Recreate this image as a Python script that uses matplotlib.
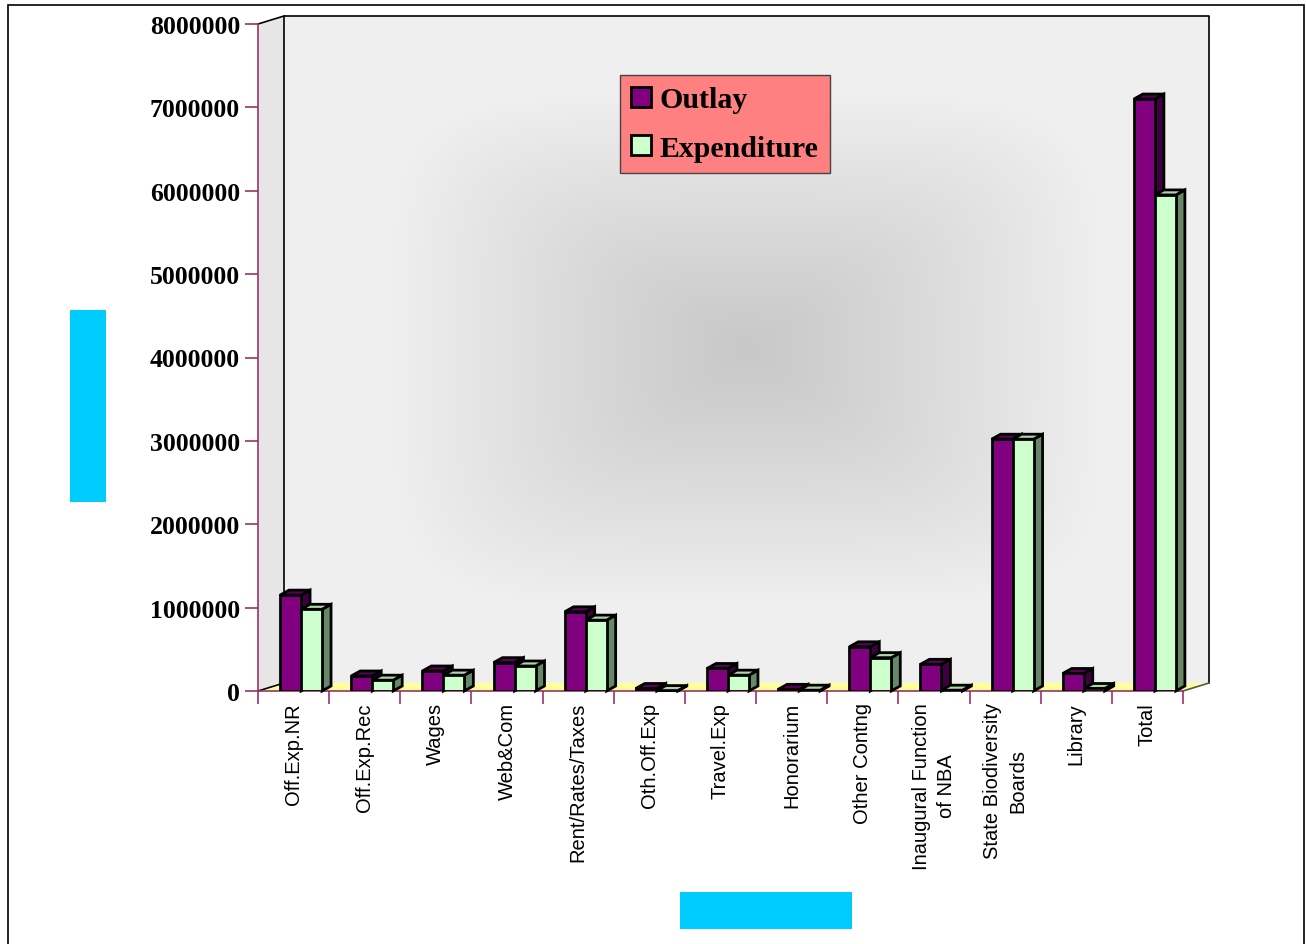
import numpy as np
import matplotlib
matplotlib.use('Agg')
import matplotlib.pyplot as plt
from matplotlib.patches import Rectangle, Polygon, Patch

categories = ['Off.Exp.NR', 'Off.Exp.Rec', 'Wages', 'Web&Com', 'Rent/Rates/Taxes',
              'Oth.Off.Exp', 'Travel.Exp', 'Honorarium', 'Other Contng',
              'Inaugural Function\nof NBA', 'State Biodiversity\nBoards', 'Library', 'Total']
outlay = [1150000, 180000, 240000, 340000, 950000, 30000, 270000, 20000,
          530000, 320000, 3020000, 210000, 7100000]
expenditure = [980000, 130000, 190000, 300000, 850000, 5000, 190000, 10000,
               400000, 10000, 3020000, 30000, 5950000]
yticks = [0, 1000000, 2000000, 3000000, 4000000, 5000000, 6000000, 7000000, 8000000]

W, H = 1306, 945
fig = plt.figure(figsize=(W / 100, H / 100), dpi=100)
ax = fig.add_axes([258 / W, 253 / H, 925 / W, 667 / H])
ax.set_facecolor('none')

n = len(categories)
ymax = 8000000
px_x = 925 / n          # pixels per category
px_y = 667 / ymax       # pixels per unit value

# wall depth offset
wdx = 26 / px_x
wdy = 8 / px_y

# back wall gradient
gx = np.linspace(-1, 1, 400)
gy = np.linspace(-1, 1, 300)
U, V = np.meshgrid(gx, gy)
d = (np.abs(U) ** 5 + np.abs(V) ** 5) ** 0.2
g = 0.785 + (0.94 - 0.785) * np.clip(d / 0.78, 0, 1) ** 1.1
img = np.dstack([g, g, g])
im = ax.imshow(img, extent=(wdx, n + wdx, wdy, ymax + wdy), aspect='auto',
               zorder=0, interpolation='bilinear')
im.set_clip_on(False)

# side wall and floor
side = Polygon([(0, 0), (wdx, wdy), (wdx, ymax + wdy), (0, ymax)], closed=True,
               facecolor='#e6e6e6', edgecolor='none', zorder=0.5, clip_on=False)
ax.add_patch(side)
floor = Polygon([(0, 0), (n, 0), (n + wdx, wdy), (wdx, wdy)], closed=True,
                facecolor='#ffff99', edgecolor='none', zorder=0.6, clip_on=False)
ax.add_patch(floor)
ax.plot([wdx, wdx, n + wdx, n + wdx], [wdy, ymax + wdy, ymax + wdy, wdy],
        color='black', lw=1.2, zorder=0.7, clip_on=False)
ax.plot([0, wdx], [ymax, ymax + wdy], color='black', lw=1.2, zorder=0.7, clip_on=False)
ax.plot([0, wdx], [0, wdy], color='black', lw=1.2, zorder=0.7, clip_on=False)
ax.plot([n, n + wdx], [0, wdy], color='#555555', lw=1.2, zorder=0.7, clip_on=False)

# bars
bw = 0.295
bdx = 9 / px_x
bdy = 5 / px_y
elw = 2.0
series = [(outlay, 0.31, '#800080', '#3f003f', '#5a005a', 'Outlay'),
          (expenditure, 0.31 + bw, '#ccffcc', '#668866', '#a8d8a8', 'Expenditure')]
handles = []
for k, (vals, off, front, sidec, topc, lab) in enumerate(series):
    z = 3 + k
    xs = np.arange(n) + off
    bars = ax.bar(xs, vals, width=bw, align='edge', color=front, edgecolor='black',
                  linewidth=elw, zorder=z + 0.2)
    for x0, v in zip(xs, vals):
        ax.add_patch(Polygon([(x0 + bw, 0), (x0 + bw + bdx, bdy), (x0 + bw + bdx, v + bdy),
                              (x0 + bw, v)], closed=True, facecolor=sidec,
                             edgecolor='black', linewidth=elw, zorder=z, clip_on=False))
        ax.add_patch(Polygon([(x0, v), (x0 + bdx, v + bdy), (x0 + bw + bdx, v + bdy),
                              (x0 + bw, v)], closed=True, facecolor=topc,
                             edgecolor='black', linewidth=elw, zorder=z + 0.1, clip_on=False))
    handles.append(Patch(facecolor=front, edgecolor='black', linewidth=elw, label=lab))

ax.set_xlim(0, n)
ax.set_ylim(0, ymax)

axcol = '#993366'
for s in ['top', 'right']:
    ax.spines[s].set_visible(False)
for s in ['left', 'bottom']:
    ax.spines[s].set_color(axcol)
    ax.spines[s].set_linewidth(1.2)
    ax.spines[s].set_zorder(2)

ax.set_yticks(yticks)
ax.set_yticklabels([str(t) for t in yticks], fontfamily='Liberation Serif',
                   fontweight='bold', fontsize=18.5)
ax.tick_params(axis='y', direction='out', length=9.5, width=1.2, color=axcol, pad=3.5)

ax.set_xticks(np.arange(n + 1))
ax.set_xticklabels([])
ax.set_xticks(np.arange(n) + 0.5, minor=True)
ax.set_xticklabels(categories, minor=True, rotation=90, fontfamily='Liberation Sans',
                   fontsize=14.5, ha='center', va='top', multialignment='center',
                   linespacing=1.4)
ax.tick_params(axis='x', which='major', direction='out', length=9.5, width=1.2, color=axcol)
ax.tick_params(axis='x', which='minor', length=0, pad=8)

leg = ax.legend(handles=handles, loc='upper left', bbox_to_anchor=(620 / W, 1 - 76 / H),
                bbox_transform=fig.transFigure, borderaxespad=0, frameon=True,
                fancybox=False, facecolor='#ff8080', edgecolor='#444444', framealpha=1,
                prop={'family': 'Liberation Serif', 'weight': 'bold', 'size': 21.5},
                handlelength=0.65, handleheight=0.65, handletextpad=0.3,
                labelspacing=0.72, borderpad=0.38)
leg.set_zorder(10)
leg.get_frame().set_linewidth(1.0)

# placeholder title boxes
fig.patches.append(Rectangle((70 / W, 1 - 503 / H), 36 / W, 192 / H,
                             transform=fig.transFigure, facecolor='#00ccff', edgecolor='none'))
fig.patches.append(Rectangle((680 / W, 1 - 930 / H), 172 / W, 37 / H,
                             transform=fig.transFigure, facecolor='#00ccff', edgecolor='none'))
# outer frame
fig.patches.append(Rectangle((8 / W, -0.05), (1304 - 8) / W, 1.05 - 6 / H,
                             transform=fig.transFigure, fill=False, edgecolor='black',
                             linewidth=1.2))

fig.savefig('out.png', dpi=100)
